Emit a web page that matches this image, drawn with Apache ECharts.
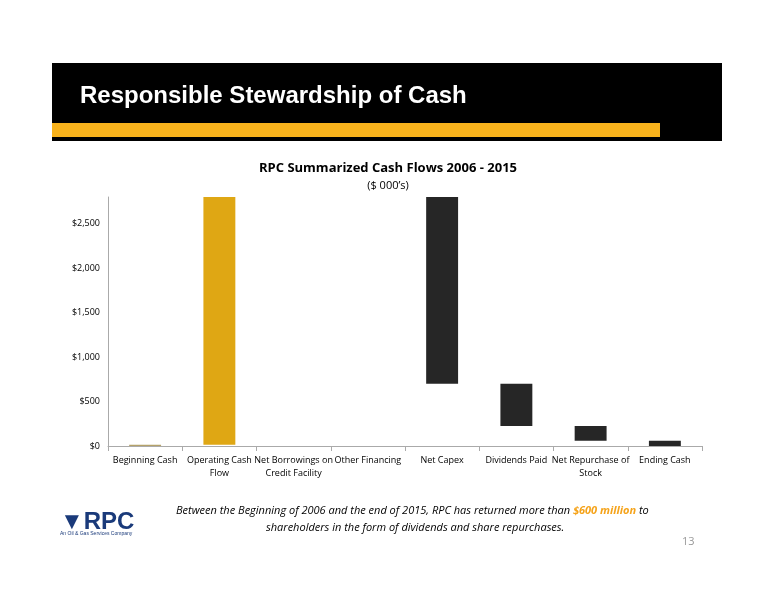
<!DOCTYPE html>
<html><head><meta charset="utf-8">
<script src="https://cdn.jsdelivr.net/npm/echarts@6/dist/echarts.min.js"></script>
<style>html,body{margin:0;padding:0;background:#fff}#c{width:776px;height:600px}</style>
</head><body><div id="c"></div>
<script>
const categories = ['Beginning Cash','Operating Cash\nFlow','Net Borrowings on\nCredit Facility','Other Financing','Net Capex','Dividends Paid','Net Repurchase of\nStock','Ending Cash'];
const flows = [15, 3800, 0, 0, -3115, -474, -166, 60];
const isTotal = [true, false, false, false, false, false, false, true];
const barColors = ['#b5a26a','#dfa714','#262626','#262626','#262626','#262626','#262626','#262626'];
const yTicks = [0, 500, 1000, 1500, 2000, 2500];

const base = [], vis = [];
let run = 0;
flows.forEach((v, i) => {
  if (isTotal[i]) { base.push(0); vis.push({value: v, itemStyle:{color: barColors[i]}}); run = v; }
  else {
    const nxt = run + v;
    base.push(Math.min(run, nxt));
    vis.push({value: Math.abs(v), itemStyle:{color: barColors[i]}});
    run = nxt;
  }
});

const chart = echarts.init(document.getElementById('c'));
chart.setOption({
  animation:false,
  graphic:[
    {type:'rect', shape:{x:52,y:63,width:670,height:78}, style:{fill:'#000'}},
    {type:'rect', shape:{x:52,y:123,width:608,height:14}, style:{fill:'#f8b21c'}},
    {type:'text', left:80, top:84, style:{text:'Responsible Stewardship of Cash', fill:'#fff', font:'bold 24px "Liberation Sans", Arial, sans-serif'}},
    {type:'text', left:'center', top:162, style:{text:'RPC Summarized Cash Flows 2006 - 2015', fill:'#000', font:'bold 13px "Open Sans", sans-serif', textAlign:'center'}},
    {type:'text', left:'center', top:180, style:{text:'($ 000\u2019s)', fill:'#000', font:'11px "Open Sans", sans-serif'}},
    {type:'text', left:176, top:505, style:{rich:{a:{font:'italic 11px "Open Sans", sans-serif', fill:'#000'}, b:{font:'italic bold 11px "Open Sans", sans-serif', fill:'#f5a31a'}}, text:'{a|Between the Beginning of 2006 and the end of 2015, RPC has returned more than }{b|$600 million}{a| to}'}},
    {type:'text', left:266, top:522, style:{text:'shareholders in the form of dividends and share repurchases.', font:'italic 11px "Open Sans", sans-serif', fill:'#000'}},
    {type:'text', left:60, top:510, style:{text:'\u25BCRPC', font:'bold 24px "Liberation Sans", Arial, sans-serif', fill:'#1a3a7a'}},
    {type:'text', left:60, top:531, style:{text:'An Oil & Gas Services Company', font:'5px sans-serif', fill:'#1a3a7a'}},
    {type:'text', left:682, top:536, style:{text:'13', font:'11px "Open Sans", sans-serif', fill:'#999'}}
  ],
  grid:{left:108, right:74, top:197, bottom:154},
  xAxis:{type:'category', data:categories, axisTick:{show:true, alignWithLabel:false, lineStyle:{color:'#aaa'}}, axisLine:{lineStyle:{color:'#aaa'}},
    axisLabel:{color:'#000', fontSize:9, fontFamily:'"Open Sans", sans-serif', interval:0, lineHeight:13}},
  yAxis:{type:'value', min:0, max:2800, interval:500, splitLine:{show:false}, axisLine:{show:true, lineStyle:{color:'#aaa'}},
    axisTick:{show:false},
    axisLabel:{color:'#000', fontSize:9, fontFamily:'"Open Sans", sans-serif', formatter:v=> yTicks.includes(v) ? '$'+v.toLocaleString('en-US') : ''}},
  series:[
    {type:'bar', stack:'w', data:base, itemStyle:{color:'transparent'}, barWidth:'43%', silent:true},
    {type:'bar', stack:'w', data:vis, barWidth:'43%'}
  ]
});
</script></body></html>
